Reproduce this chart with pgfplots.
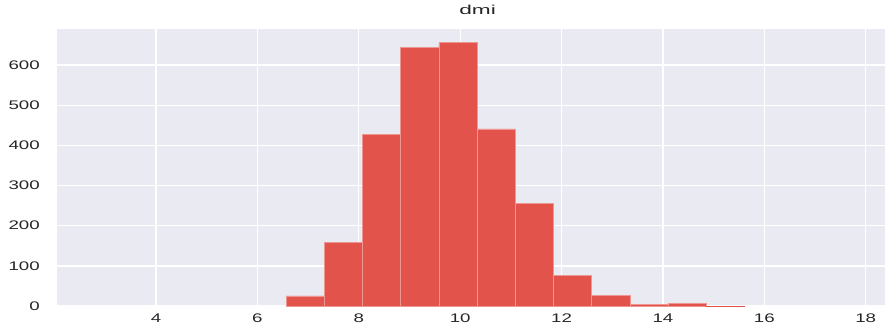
\documentclass[border=0pt]{standalone}
\usepackage{pgfplots}
\pgfplotsset{compat=1.18}
\usepackage{fontspec}
\setmainfont{Liberation Sans}
\definecolor{bgc}{RGB}{234,234,242}
\definecolor{barc}{RGB}{225,83,75}
\definecolor{bare}{RGB}{238,150,145}
\definecolor{tickc}{RGB}{38,38,38}
\begin{document}
\begin{tikzpicture}
\begin{axis}[
  at={(0,0)}, anchor=south west,
  scale only axis,
  width=828bp, height=277bp,
  xmin=2.047, xmax=18.38,
  ymin=0, ymax=690,
  xtick={4,6,...,18},
  ytick={0,100,...,600},
  grid=major,
  major grid style={white, line width=1.3bp},
  axis background/.style={fill=bgc},
  axis line style={draw=none},
  tick style={draw=none},
  major tick length=0pt,
  /pgf/number format/assume math mode=true,
  tick label style={font=\fontsize{12.5}{13}\selectfont, text=tickc, xscale=1.5},
  yticklabel style={xshift=-8bp},
  xticklabel style={yshift=-4bp},
  title={dmi},
  title style={at={(0.508,1)}, anchor=base, yshift=8.5bp, font=\fontsize{13}{14}\selectfont, text=tickc, xscale=1.75},
]
\addplot[ybar, bar width=0.7539, fill=barc, draw=bare, line width=0.7bp] coordinates {
  (6.942,25)
  (7.695,158)
  (8.449,427)
  (9.203,644)
  (9.957,656)
  (10.711,441)
  (11.465,256)
  (12.219,77)
  (12.973,27)
  (13.727,4)
  (14.481,7)
};
\addplot[ybar, bar width=0.7539, fill=barc, draw=none] coordinates {
  (15.234,1)
};
\end{axis}
\pgfresetboundingbox
\path (-57bp,-23bp) rectangle (828bp,306bp);
\end{tikzpicture}
\end{document}
